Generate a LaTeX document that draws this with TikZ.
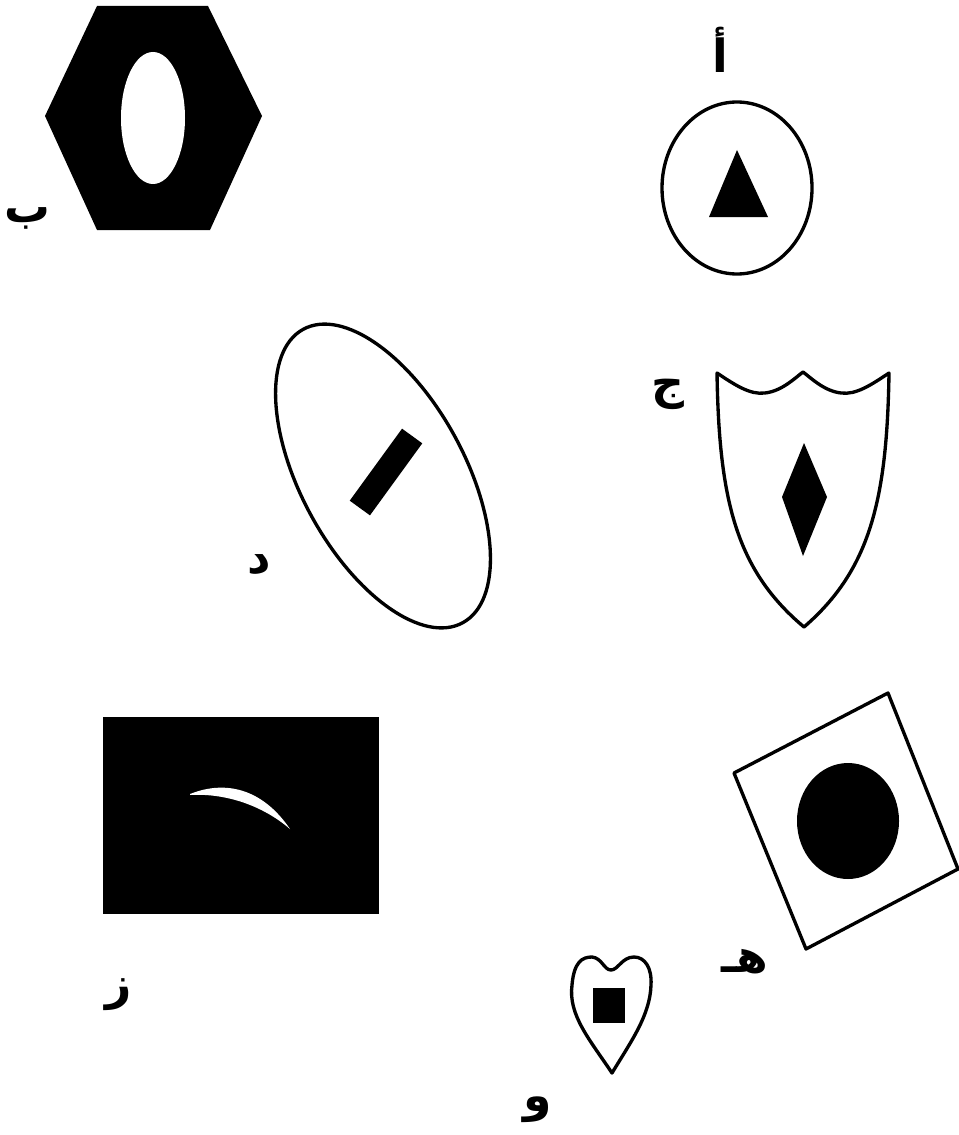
\documentclass[tikz,border=0pt]{standalone}
\usepackage{fontspec}
\newfontfamily\arabicfont[Script=Arabic]{DejaVu Sans}
\TeXXeTstate=1
\usepackage{tikz}
\usetikzlibrary{positioning}

\tikzset{
  contour/.style={draw=black, line width=1.9pt, fill=white, line join=round},
  ink/.style={fill=black},
  lbl/.style={inner sep=0pt, font=\arabicfont\bfseries\fontsize{26}{28}\selectfont}
}

\begin{document}
\begin{tikzpicture}[x=0.02cm, y=-0.02cm]
    \useasboundingbox (0,0) rectangle (959,1135);

    % Hexagon (b)
    \fill[ink] (97,6) -- (208,6) -- (262,116) -- (210,230) -- (97,230) -- (45,116) -- cycle;
    \fill[white] (153,118) ellipse [x radius=32, y radius=66];
    \node[lbl, anchor=west] (lb) at (4,218) {\beginR ب\endR};

    % Circle with triangle (a)
    \draw[contour] (737,188) ellipse [x radius=75, y radius=86];
    \fill[ink] (737,150) -- (768,217) -- (709,217) -- cycle;
    \node[lbl] (la) at (720,50) {\beginR أ\endR};

    % Shield with diamond (j)
    \draw[contour] (717,373) .. controls (735,385) and (750,395) .. (765,393)
      .. controls (782,391) and (795,378) .. (803,372)
      .. controls (811,378) and (824,391) .. (841,393)
      .. controls (856,395) and (871,385) .. (889,373)
      .. controls (887,500) and (870,570) .. (804,627)
      .. controls (736,570) and (719,500) .. (717,373) -- cycle;
    \fill[ink] (804,443) -- (827,497) -- (803,556) -- (782,497) -- cycle;
    \node[lbl] (lj) at (668,394) {\beginR ج\endR};

    % Tilted ellipse with bar (d)
    \draw[contour, rotate around={-61.5:(383,476)}] (383,476) ellipse [x radius=167, y radius=82];
    \fill[ink, rotate around={54:(386,472)}] (341.5,459.5) rectangle (430.5,484.5);
    \node[lbl] (ld) at (259,565) {\beginR د\endR};

    % Black rectangle with crescent (z)
    \fill[ink] (103,717) rectangle (379,914);
    \fill[white] (190,794) .. controls (225,780) and (262,788) .. (290,829)
      .. controls (262,805) and (225,793) .. (190,795) -- cycle;
    \node[lbl] (lz) at (119,995) {\beginR ز\endR};

    % Tilted square with disc (h)
    \draw[contour] (888,693) -- (958,869) -- (806,949) -- (734,773) -- cycle;
    \fill[ink] (848,821) ellipse [x radius=51, y radius=58];
    \node[lbl] (lh) at (745,962) {\beginR هـ\endR};

    % Heart with square (w)
    \draw[contour] (612,1073) .. controls (590,1040) and (568,1015) .. (572,985)
      .. controls (574,962) and (582,957) .. (592,957)
      .. controls (602,958) and (604,970) .. (611,970)
      .. controls (618,970) and (622,957) .. (634,957)
      .. controls (645,957) and (652,968) .. (651,985)
      .. controls (650,1015) and (632,1040) .. (612,1073) -- cycle;
    \fill[ink] (593,988) rectangle (625,1023);
    \node[lbl] (lw) at (538,1110) {\beginR و\endR};
\end{tikzpicture}
\end{document}
